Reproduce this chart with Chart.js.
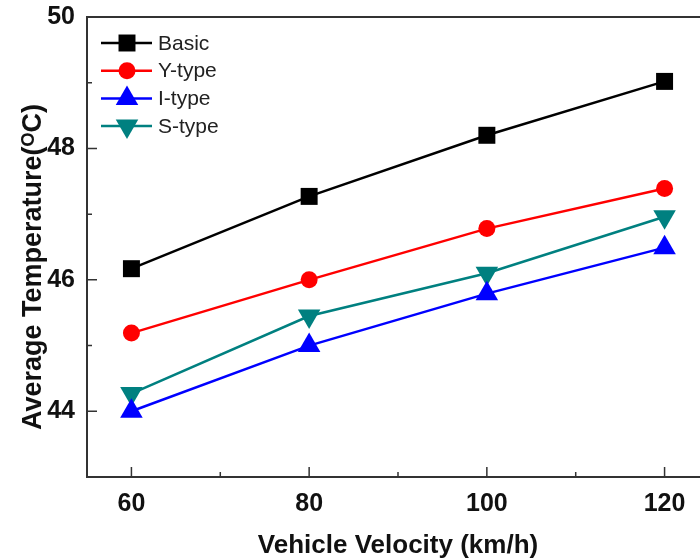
<!DOCTYPE html>
<html>
<head>
<meta charset="utf-8">
<script src="https://cdn.jsdelivr.net/npm/chart.js@4/dist/chart.umd.min.js"></script>
<style>
  html, body { margin: 0; padding: 0; background: #fff; overflow: hidden; }
  #wrap { width: 700px; height: 558px; overflow: hidden; }
</style>
</head>
<body>
<div id="wrap"><canvas id="chart" width="722" height="558"></canvas></div>
<script>
// values
const velocity = [60, 80, 100, 120];
const basic = [46.17, 47.27, 48.2, 49.02];
const yType = [45.19, 46.0, 46.78, 47.39];
const iType = [44.0, 45.0, 45.79, 46.49];
const sType = [44.27, 45.45, 46.1, 46.96];
const seriesNames = ['Basic', 'Y-type', 'I-type', 'S-type'];
const yTitle = 'Average Temperature(ᴼC)';
const xTitle = 'Vehicle Velocity (km/h)';

const ctx = document.getElementById('chart').getContext('2d');
const FONT = "'Liberation Sans', Arial, sans-serif";

function pts(vals) {
  return vals.map((v, i) => ({ x: velocity[i], y: v }));
}

const styles = [
  { color: '#000000', pointStyle: 'rect', radius: 12, rotation: 0 },
  { color: '#ff0000', pointStyle: 'circle', radius: 8.5, rotation: 0 },
  { color: '#0000ff', pointStyle: 'triangle', radius: 13, rotation: 0 },
  { color: '#008080', pointStyle: 'triangle', radius: 13, rotation: 180 },
];

const datasets = [basic, yType, iType, sType].map((vals, i) => ({
  label: seriesNames[i],
  data: pts(vals),
  showLine: true,
  borderColor: styles[i].color,
  backgroundColor: styles[i].color,
  borderWidth: 2.5,
  pointStyle: styles[i].pointStyle,
  pointRadius: styles[i].radius,
  pointHoverRadius: styles[i].radius,
  pointRotation: styles[i].rotation,
  pointBorderWidth: 0,
  tension: 0
}));

// frame on top, inward ticks, y title and the line+marker legend
const framePlugin = {
  id: 'frame',
  afterDraw(chart) {
    const c = chart.ctx;
    const a = chart.chartArea;
    const xs = chart.scales.x, ys = chart.scales.y;
    c.save();
    c.strokeStyle = '#333';
    c.lineWidth = 2;
    c.beginPath();
    c.moveTo(a.left, a.top);
    c.lineTo(a.right + 2, a.top);
    c.stroke();
    c.lineWidth = 1.5;
    c.beginPath();
    for (const t of xs.ticks) {
      if (t.value % 10 !== 0 || t.value <= xs.min || t.value >= xs.max) continue;
      const len = t.value % 20 === 0 ? 10 : 5;
      const px = xs.getPixelForValue(t.value);
      c.moveTo(px, a.bottom);
      c.lineTo(px, a.bottom - len);
    }
    for (const t of ys.ticks) {
      if (t.value <= ys.min || t.value >= ys.max) continue;
      const len = t.value % 2 === 0 ? 10 : 5;
      const py = ys.getPixelForValue(t.value);
      c.moveTo(a.left, py);
      c.lineTo(a.left + len, py);
    }
    c.stroke();

    // y axis title
    c.save();
    c.translate(34, 267);
    c.rotate(-Math.PI / 2);
    c.fillStyle = '#111';
    c.font = 'bold 27px ' + FONT;
    c.textAlign = 'center';
    c.textBaseline = 'middle';
    c.fillText(yTitle, 0, 0);
    c.restore();

    // legend
    const x0 = a.left + 14, rowH = 27.7, y0 = a.top + 26;
    chart.data.datasets.forEach((ds, i) => {
      const y = y0 + i * rowH;
      c.strokeStyle = ds.borderColor;
      c.lineWidth = 2.5;
      c.beginPath();
      c.moveTo(x0, y);
      c.lineTo(x0 + 51, y);
      c.stroke();
      c.fillStyle = ds.backgroundColor;
      Chart.helpers.drawPoint(c, {
        pointStyle: ds.pointStyle,
        radius: ds.pointRadius,
        rotation: ds.pointRotation,
        borderWidth: 0
      }, x0 + 26, y);
      c.fillStyle = '#222';
      c.font = '21px ' + FONT;
      c.textBaseline = 'middle';
      c.textAlign = 'left';
      c.fillText(ds.label, x0 + 57, y + 1);
    });
    c.restore();
  }
};

new Chart(ctx, {
  type: 'scatter',
  data: { datasets: datasets },
  plugins: [framePlugin],
  options: {
    responsive: false,
    animation: false,
    devicePixelRatio: 1,
    layout: { padding: { top: 17, right: 0, left: 0, bottom: 0 } },
    plugins: {
      legend: { display: false },
      tooltip: { enabled: false }
    },
    scales: {
      x: {
        type: 'linear',
        min: 55,
        max: 125,
        afterFit: s => { s.height = 81; s.paddingLeft = 0; s.paddingRight = 0; },
        grid: { display: false, drawTicks: false },
        border: { display: true, color: '#333', width: 2 },
        ticks: {
          stepSize: 5,
          padding: 12,
          color: '#111',
          font: { family: FONT, size: 25, weight: 'bold' },
          maxRotation: 0,
          autoSkip: false,
          callback: v => (v % 20 === 0 && v >= 60 && v <= 120) ? v : ''
        },
        title: {
          display: true,
          text: xTitle,
          color: '#111',
          font: { family: FONT, size: 26, weight: 'bold' },
          padding: { top: 0, bottom: -3 }
        }
      },
      y: {
        min: 43,
        max: 50,
        afterFit: s => { s.width = 87; s.paddingTop = 0; s.paddingBottom = 0; },
        grid: { display: false, drawTicks: false },
        border: { display: true, color: '#333', width: 2 },
        ticks: {
          stepSize: 1,
          padding: 12,
          color: '#111',
          font: { family: FONT, size: 25, weight: 'bold' },
          autoSkip: false,
          callback: v => (v % 2 === 0) ? v : ''
        }
      }
    }
  }
});
</script>
</body>
</html>
